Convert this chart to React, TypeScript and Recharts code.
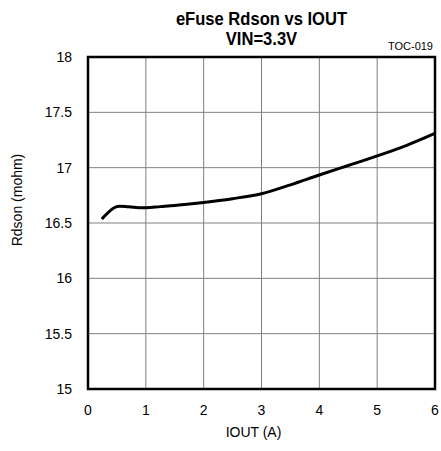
import {
  LineChart,
  Line,
  XAxis,
  YAxis,
  CartesianGrid,
  ReferenceArea,
} from "recharts";

const iout = [0.24, 0.3, 0.38, 0.46, 0.55, 0.65, 0.75, 0.88, 1.0, 1.25, 1.5, 1.75, 2.0, 2.5, 3.0, 3.5, 4.0, 4.5, 5.0, 5.5, 6.0];
const rdson = [16.535, 16.57, 16.61, 16.64, 16.652, 16.65, 16.644, 16.638, 16.638, 16.648, 16.658, 16.672, 16.686, 16.72, 16.765, 16.845, 16.934, 17.02, 17.106, 17.2, 17.31];
const xTicks = [0, 1, 2, 3, 4, 5, 6];
const yTicks = [15, 15.5, 16, 16.5, 17, 17.5, 18];

const data = iout.map((x, i) => ({ x, y: rdson[i] }));

const font = "'Liberation Sans', Arial, sans-serif";

export default function App() {
  return (
    <div style={{ position: "absolute", left: 0, top: 0, width: 441, height: 451, background: "#fff", fontFamily: font }}>
      <div style={{ position: "absolute", left: 88, width: 347, top: 9, textAlign: "center", fontWeight: "bold", fontSize: 18, lineHeight: "20px", color: "#000", transform: "scaleX(0.92)" }}>
        eFuse Rdson vs IOUT
        <br />
        VIN=3.3V
      </div>
      <div style={{ position: "absolute", right: 8, top: 40, fontSize: 11, color: "#000" }}>TOC-019</div>
      <LineChart width={441} height={451} data={data} margin={{ top: 57, right: 6, bottom: 32, left: 0 }}>
        <CartesianGrid stroke="#808080" strokeWidth={1} />
        <XAxis
          dataKey="x"
          type="number"
          domain={[0, 6]}
          ticks={xTicks}
          height={30}
          tickLine={false}
          axisLine={false}
          tickMargin={10}
          tick={{ fill: "#000", fontSize: 14, fontFamily: font }}
          label={{ value: "IOUT (A)", position: "insideBottom", offset: -18, dx: -8, fill: "#000", fontSize: 14, fontFamily: font }}
        />
        <YAxis
          type="number"
          domain={[15, 18]}
          ticks={yTicks}
          width={88}
          tickLine={false}
          axisLine={false}
          tickMargin={10}
          tick={{ fill: "#000", fontSize: 14, fontFamily: font }}
          label={{ value: "Rdson (mohm)", angle: -90, position: "insideLeft", offset: 17, dy: -23, fill: "#000", fontSize: 14, fontFamily: font, style: { textAnchor: "middle" } }}
        />
        <ReferenceArea x1={0} x2={6} y1={15} y2={18} fill="none" stroke="#000" strokeWidth={2.5} ifOverflow="visible" />
        <Line type="monotone" dataKey="y" stroke="#000" strokeWidth={3} dot={false} isAnimationActive={false} />
      </LineChart>
    </div>
  );
}
